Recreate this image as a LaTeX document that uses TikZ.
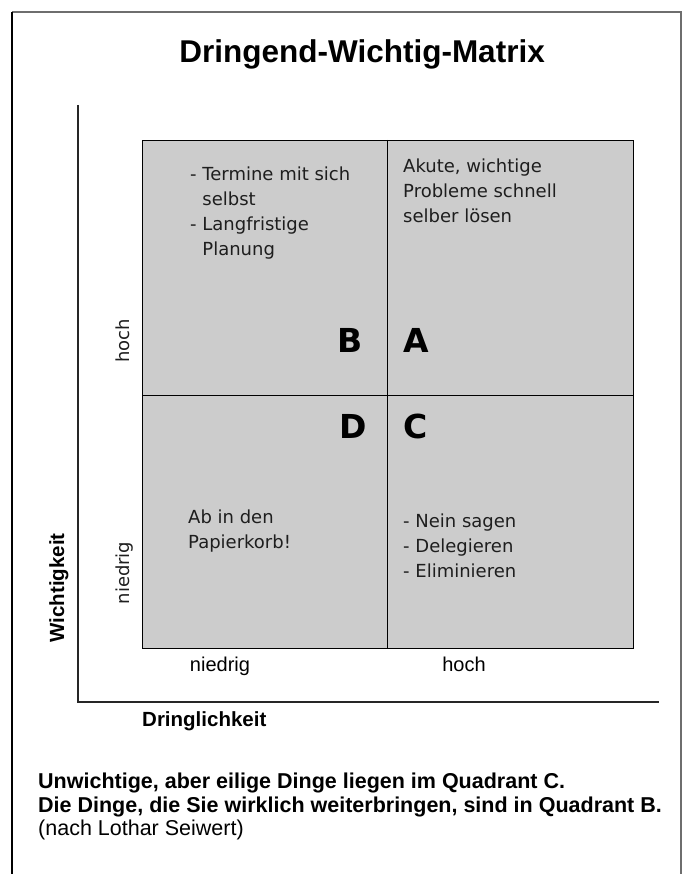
\documentclass[tikz,border=0pt]{standalone}
\usepackage{fontspec}
\setmainfont{Liberation Sans}
\newfontfamily\lightsans{DejaVu Sans}
\definecolor{quadgray}{HTML}{CCCCCC}
\definecolor{framegray}{HTML}{6E6E6E}
\definecolor{inkgray}{HTML}{1E1E1E}
\tikzset{
    quadtext/.style={anchor=north west, inner sep=0pt, align=left, text=inkgray,
        font=\lightsans\fontsize{18}{25}\selectfont},
    quadletter/.style={inner sep=0pt, font=\lightsans\bfseries\fontsize{33}{33}\selectfont},
    sidelabel/.style={inner sep=0pt, rotate=90, anchor=base, text=inkgray,
        font=\lightsans\fontsize{18}{20}\selectfont},
    scalelabel/.style={inner sep=0pt, anchor=base, font=\fontsize{20}{24}\selectfont},
    axistitle/.style={inner sep=0pt, font=\bfseries\fontsize{20.5}{24}\selectfont}
}
\begin{document}
\begin{tikzpicture}[x=1pt,y=-1pt]
    \useasboundingbox (0,0) rectangle (685,874);
    % Rahmen
    \draw[framegray, line width=1.6pt] (12,12) -- (681,12) -- (681,874);
    \draw[black, line width=1.2pt] (12,12) -- (12,874);
    % Achsen
    \draw[black!85, line width=1.2pt] (78,105) -- (78,702) -- (659,702);
    % Matrix
    \fill[quadgray] (142,140) rectangle (633,648);
    \draw[line width=0.8pt] (142,140) rectangle (633,648);
    \draw[line width=0.8pt] (387,140) -- (387,648);
    \draw[line width=0.8pt] (142,395) -- (633,395);

    \node[inner sep=0pt, anchor=base, font=\bfseries\fontsize{31.5}{34}\selectfont] (title) at (362,63) {Dringend-Wichtig-Matrix};

    % Quadranten
    \foreach \q/\x/\y/\side in {B/363/352/base east, A/403/352/base west, D/367/438/base east, C/403/438/base west}
    {
        \node[quadletter, anchor=\side] (letter\q) at (\x,\y) {\q};
    }
    \node[quadtext] (textB) at (190,167) {- Termine mit sich\\\phantom{- }selbst\\- Langfristige\\\phantom{- }Planung};
    \node[quadtext] (textA) at (403,159) {Akute, wichtige\\Probleme schnell\\selber lösen};
    \node[quadtext] (textD) at (188,510) {Ab in den\\Papierkorb!};
    \node[quadtext] (textC) at (403,514) {- Nein sagen\\- Delegieren\\- Eliminieren};

    % Beschriftung
    \node[sidelabel] (hochY) at (129,341) {hoch};
    \node[sidelabel] (niedrigY) at (129,573) {niedrig};
    \node[axistitle, rotate=90, anchor=base] (wichtig) at (64,588) {Wichtigkeit};
    \node[scalelabel] (niedrigX) at (220,671) {niedrig};
    \node[scalelabel] (hochX) at (464,671) {hoch};
    \node[axistitle, anchor=base west] (dringlich) at (142,726) {Dringlichkeit};

    \node[anchor=north west, inner sep=0pt, align=left, font=\fontsize{21.5}{23.5}\selectfont] (hinweis) at (38,773)
        {\textbf{Unwichtige, aber eilige Dinge liegen im Quadrant C.}\\\textbf{Die Dinge, die Sie wirklich weiterbringen, sind in Quadrant B.}\\(nach Lothar Seiwert)};
\end{tikzpicture}
\end{document}
